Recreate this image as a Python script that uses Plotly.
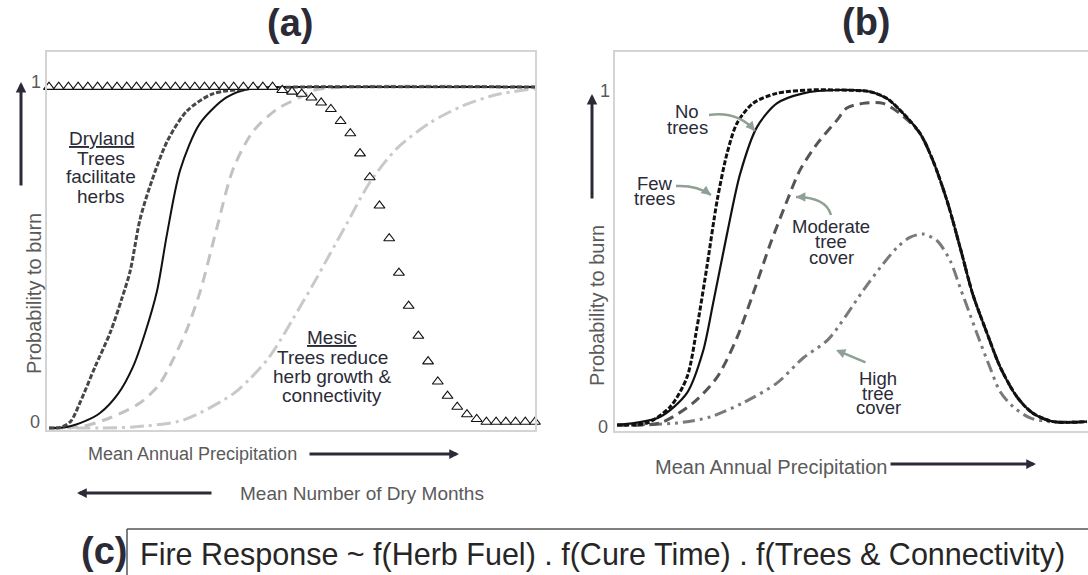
import plotly.graph_objects as go

W, H = 1088, 575
FONT = "Liberation Sans, Arial, sans-serif"
INK = "#2b2b38"
AXIS_TXT = "#5a5a5a"
POINTER = "#8fa094"

# ---------------- Panel (a): fire response along a rainfall gradient ----------------
# x: relative mean annual precipitation (0 = driest, 1 = wettest); y: probability to burn
a_few_x = [0, 0.025, 0.045, 0.064, 0.095, 0.126, 0.150, 0.167, 0.187, 0.208, 0.243, 0.284, 0.337, 0.414, 0.517, 1.0]
a_few_y = [0, 0.002, 0.02, 0.075, 0.18, 0.28, 0.38, 0.46, 0.61, 0.71, 0.84, 0.93, 0.98, 0.995, 1.0, 1.0]

a_none_x = [0, 0.037, 0.074, 0.105, 0.142, 0.173, 0.198, 0.222, 0.243, 0.270, 0.311, 0.366, 0.420, 0.517, 1.0]
a_none_y = [0, 0.003, 0.02, 0.044, 0.10, 0.18, 0.28, 0.40, 0.57, 0.757, 0.894, 0.97, 0.997, 1.0, 1.0]

a_mod_x = [0, 0.070, 0.126, 0.187, 0.228, 0.255, 0.284, 0.311, 0.346, 0.379, 0.420, 0.469, 0.517, 0.543, 0.613, 1.0]
a_mod_y = [0, 0.005, 0.03, 0.073, 0.13, 0.20, 0.29, 0.40, 0.59, 0.76, 0.87, 0.935, 0.97, 0.99, 1.0, 1.0]

a_high_x = [0, 0.105, 0.173, 0.276, 0.379, 0.414, 0.449, 0.475, 0.502, 0.543, 0.578, 0.613,
            0.660, 0.716, 0.784, 0.852, 0.922, 1.0]
a_high_y = [0, 0.0, 0.003, 0.023, 0.10, 0.145, 0.20, 0.255, 0.32, 0.42, 0.51, 0.60,
            0.72, 0.82, 0.895, 0.945, 0.978, 0.995]

# herb cure / dry-season response (open triangles)
tri_x = [0.00, 0.02, 0.04, 0.06, 0.08, 0.10, 0.12, 0.14, 0.16, 0.18, 0.20, 0.22, 0.24, 0.26, 0.28, 0.30,
         0.32, 0.34, 0.36, 0.38, 0.40, 0.42, 0.44, 0.46, 0.48, 0.50, 0.52, 0.54, 0.56, 0.58, 0.60, 0.62,
         0.64, 0.66, 0.68, 0.70, 0.72, 0.74, 0.76, 0.78, 0.80, 0.82, 0.84, 0.86, 0.88, 0.90, 0.92, 0.94,
         0.96, 0.98, 1.00]
tri_y = [1.0, 1.0, 1.0, 1.0, 1.0, 1.0, 1.0, 1.0, 1.0, 1.0, 1.0, 1.0, 1.0, 1.0, 1.0, 1.0,
         1.0, 1.0, 1.0, 1.0, 1.0, 1.0, 1.0, 1.0, 0.991, 0.986, 0.98, 0.969, 0.954, 0.935, 0.90, 0.864,
         0.805, 0.735, 0.652, 0.556, 0.455, 0.358, 0.27, 0.195, 0.136, 0.094, 0.062, 0.04, 0.026, 0.018,
         0.018, 0.018, 0.018, 0.018, 0.018]

# ---------------- Panel (b): combined response for four tree-cover levels ----------------
b_none_x = [0, 0.091, 0.149, 0.183, 0.204, 0.234, 0.262, 0.298, 0.340, 0.396, 0.468, 0.538, 0.574, 0.609,
            0.645, 0.672, 0.702, 0.730, 0.757, 0.787, 0.815, 0.851, 0.885, 0.928, 1.0]
b_none_y = [0, 0.024, 0.096, 0.22, 0.36, 0.57, 0.75, 0.89, 0.96, 0.99, 1.0, 0.995, 0.975, 0.93,
            0.87, 0.79, 0.67, 0.53, 0.39, 0.275, 0.174, 0.084, 0.035, 0.01, 0.01]

b_few_x = [0, 0.064, 0.113, 0.149, 0.170, 0.191, 0.213, 0.234, 0.255, 0.289, 0.340, 0.411, 0.468, 0.538,
           0.574, 0.609, 0.645, 0.672, 0.702, 0.730, 0.757, 0.787, 0.815, 0.851, 0.885, 0.928, 1.0]
b_few_y = [0, 0.006, 0.054, 0.143, 0.29, 0.47, 0.67, 0.81, 0.90, 0.96, 0.99, 1.0, 1.0, 0.995,
           0.975, 0.93, 0.87, 0.79, 0.67, 0.53, 0.39, 0.275, 0.174, 0.084, 0.035, 0.01, 0.01]

b_mod_x = [0, 0.091, 0.162, 0.213, 0.255, 0.289, 0.326, 0.362, 0.389, 0.426, 0.468, 0.489, 0.523, 0.566,
           0.602, 0.645, 0.672, 0.702, 0.730, 0.757, 0.787, 0.815, 0.851, 0.885, 0.928, 1.0]
b_mod_y = [0, 0.006, 0.066, 0.143, 0.26, 0.39, 0.54, 0.67, 0.76, 0.84, 0.91, 0.946, 0.96, 0.96,
           0.93, 0.87, 0.79, 0.67, 0.53, 0.39, 0.275, 0.174, 0.084, 0.035, 0.01, 0.01]

b_high_x = [0, 0.128, 0.198, 0.268, 0.340, 0.396, 0.449, 0.523, 0.560, 0.596, 0.623, 0.651, 0.681,
            0.709, 0.730, 0.751, 0.772, 0.794, 0.815, 0.843, 0.879, 0.921, 1.0]
b_high_y = [0, 0.006, 0.024, 0.066, 0.125, 0.20, 0.255, 0.40, 0.47, 0.53, 0.56, 0.57, 0.55,
            0.49, 0.41, 0.33, 0.25, 0.17, 0.10, 0.054, 0.021, 0.01, 0.01]

DASH_DOT = "14px,5px,3px,5px"
DASH_DOT_DOT = "12px,5px,3px,5px,3px,5px"

fig = go.Figure()


def curve(x, y, color, width, dash, axes):
    xa, ya = axes
    fig.add_trace(go.Scatter(
        x=x, y=y, mode="lines", xaxis=xa, yaxis=ya, showlegend=False, hoverinfo="skip",
        line=dict(color=color, width=width, dash=dash, shape="spline", smoothing=0.8)))


# panel (a)
curve(a_high_x, a_high_y, "#c9c9c9", 3, DASH_DOT, ("x", "y"))
curve(a_mod_x, a_mod_y, "#c2c2c2", 3, "11px,7px", ("x", "y"))
curve(a_none_x, a_none_y, "#111111", 2, "solid", ("x", "y"))
curve(a_few_x, a_few_y, "#474747", 3, "5px,2px", ("x", "y"))
fig.add_trace(go.Scatter(
    x=tri_x, y=tri_y, mode="markers", xaxis="x", yaxis="y", showlegend=False, hoverinfo="skip",
    cliponaxis=False,
    marker=dict(symbol="triangle-up", size=9.5, color="white", line=dict(color="#111111", width=1.1))))

# panel (b)
curve(b_high_x, b_high_y, "#7a7a7a", 3, DASH_DOT_DOT, ("x2", "y2"))
curve(b_mod_x, b_mod_y, "#555555", 3, "10px,6px", ("x2", "y2"))
curve(b_none_x, b_none_y, "#111111", 2.2, "solid", ("x2", "y2"))
curve(b_few_x, b_few_y, "#111111", 3, "5px,2px", ("x2", "y2"))


def px(x):
    return x / W


def py(y):
    return 1 - y / H


def text(x, y, s, size, color=INK, anchor="center", bold=False):
    fig.add_annotation(x=px(x), y=py(y), xref="paper", yref="paper", text=s, showarrow=False,
                       xanchor=anchor, yanchor="middle", borderpad=0,
                       font=dict(size=size, color=color, family=FONT,
                                 weight="bold" if bold else "normal"))


def arrow(tip, tail, color, width, size):
    fig.add_annotation(x=px(tip[0]), y=py(tip[1]), xref="paper", yref="paper", text="",
                       showarrow=True, ax=tail[0] - tip[0], ay=tail[1] - tip[1],
                       axref="pixel", ayref="pixel",
                       arrowhead=2, arrowsize=size, arrowwidth=width, arrowcolor=color)


def bent_pointer(start, ctrl, end):
    path = "M {:.5f},{:.5f} Q {:.5f},{:.5f} {:.5f},{:.5f}".format(
        px(start[0]), py(start[1]), px(ctrl[0]), py(ctrl[1]), px(end[0]), py(end[1]))
    fig.add_shape(type="path", path=path, xref="paper", yref="paper",
                  line=dict(color=POINTER, width=2.5))
    dx, dy = end[0] - ctrl[0], end[1] - ctrl[1]
    n = (dx * dx + dy * dy) ** 0.5
    arrow(end, (end[0] - 9 * dx / n, end[1] - 9 * dy / n), POINTER, 2.5, 0.75)


# panel titles
text(290, 23, "(a)", 38, INK, bold=True)
text(866, 22, "(b)", 38, INK, bold=True)

# axis annotations, panel (a)
text(42, 82, "1", 18, AXIS_TXT, anchor="right")
text(41, 422, "0", 18, AXIS_TXT, anchor="right")
fig.add_annotation(x=px(21), y=py(294), xref="paper", yref="paper", text="Probability to burn",
                   showarrow=False, textangle=-90, font=dict(size=20, color=AXIS_TXT, family=FONT))
arrow((21, 82), (21, 187), INK, 3, 0.7)
text(192, 454, "Mean Annual Precipitation", 18, AXIS_TXT)
arrow((459, 454), (308, 454), INK, 3, 0.65)
text(362, 493, "Mean Number of Dry Months", 19, AXIS_TXT)
arrow((77, 493), (213, 493), INK, 3, 0.65)

# regime notes, panel (a)
text(101, 139, "<u>Dryland</u>", 19)
text(101, 158, "Trees", 19)
text(101, 177, "facilitate", 19)
text(101, 196, "herbs", 19)
text(332, 337, "<u>Mesic</u>", 19)
text(332, 357, "Trees reduce", 19)
text(332, 376, "herb growth &", 19)
text(332, 395, "connectivity", 19)

# axis annotations, panel (b)
text(611, 91, "1", 18, AXIS_TXT, anchor="right")
text(609, 427, "0", 18, AXIS_TXT, anchor="right")
fig.add_annotation(x=px(597), y=py(306), xref="paper", yref="paper", text="Probability to burn",
                   showarrow=False, textangle=-90, font=dict(size=20, color=AXIS_TXT, family=FONT))
arrow((592, 94), (592, 200), INK, 3, 0.7)
text(771, 467, "Mean Annual Precipitation", 20, AXIS_TXT)
arrow((1036, 464), (889, 464), INK, 3, 0.65)

# tree-cover labels, panel (b)
text(687, 112, "No", 18.5)
text(687, 127, "trees", 18.5)
bent_pointer((709, 115), (738, 111), (755, 131))
text(655, 183, "Few", 18.5)
text(654, 198, "trees", 18.5)
bent_pointer((676, 186), (697, 185), (711, 195))
text(831, 226, "Moderate", 18.5)
text(831, 242, "tree", 18.5)
text(831, 257, "cover", 18.5)
bent_pointer((831, 215), (826, 197), (796, 197))
text(878, 378, "High", 18.5)
text(878, 393, "tree", 18.5)
text(878, 408, "cover", 18.5)
arrow((836, 350), (867, 363), POINTER, 2.5, 0.75)

# panel (c): the combined response expression
text(104, 551, "(c)", 38, INK, bold=True)
text(139, 554, "Fire Response ~ f(Herb Fuel) . f(Cure Time) . f(Trees & Connectivity)", 30.5, "#262626",
     anchor="left")
fig.add_shape(type="line", xref="paper", yref="paper", x0=px(127), y0=py(529), x1=1.0, y1=py(529),
              line=dict(color="#555555", width=1.5))
fig.add_shape(type="line", xref="paper", yref="paper", x0=px(127), y0=py(529), x1=px(127), y1=0,
              line=dict(color="#555555", width=1.5))

frame = dict(showgrid=False, zeroline=False, showticklabels=False, ticks="",
             showline=True, linecolor="#d4d4d4", linewidth=1.5)

fig.update_layout(
    width=W, height=H, margin=dict(l=0, r=0, t=0, b=0),
    paper_bgcolor="white", plot_bgcolor="white",
    xaxis=dict(domain=[47 / W, 535 / W], range=[-0.0041, 1.0], anchor="y", mirror=True, **frame),
    yaxis=dict(domain=[1 - 430 / H, 1 - 52 / H], range=[-0.0059, 1.1026], anchor="x", mirror=True, **frame),
    xaxis2=dict(domain=[615 / W, 1.0], range=[-0.0043, 1.0021], anchor="y2", mirror=True, **frame),
    yaxis2=dict(domain=[1 - 431 / H, 1 - 52 / H], range=[-0.0179, 1.1134], anchor="x2", mirror=False, **frame),
)

fig.write_html("out.html")
